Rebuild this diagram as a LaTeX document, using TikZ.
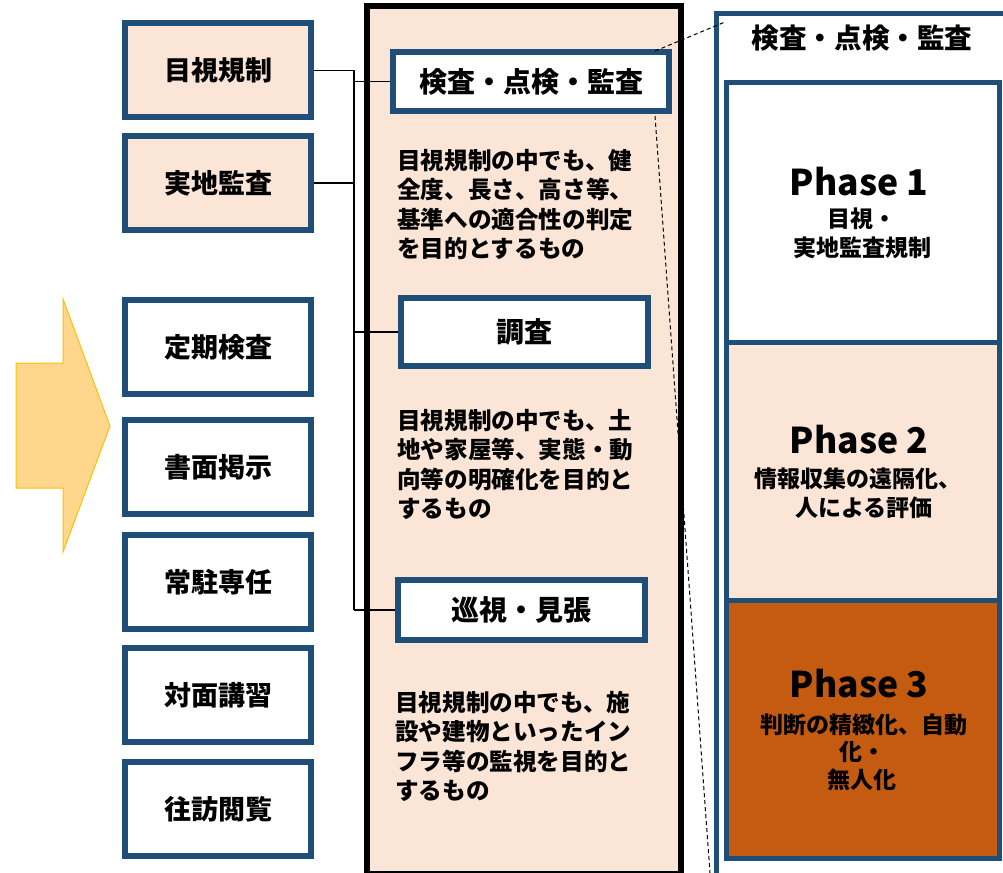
\documentclass[tikz,border=0pt]{standalone}
\usepackage{fontspec}
\setmainfont{Noto Sans CJK JP}
\definecolor{bord}{HTML}{1F4E79}
\definecolor{peach}{HTML}{FBE5D6}
\definecolor{rust}{HTML}{C55A11}
\definecolor{arrowfill}{HTML}{FFD78C}
\definecolor{arrowline}{HTML}{FFC000}
\begin{document}
\begin{tikzpicture}[x=1pt,y=-1pt,
 lbox/.style={draw=bord, line width=6pt, minimum width=186pt, minimum height=94pt, inner sep=0pt, font=\fontsize{27}{32}\selectfont\bfseries},
 ibox/.style={draw=bord, line width=6pt, fill=white, inner sep=0pt, font=\fontsize{28}{32}\selectfont\bfseries},
 ctext/.style={anchor=base west, inner sep=0pt, font=\fontsize{23.6}{28}\selectfont\bfseries},
 ptitle/.style={anchor=base, inner sep=0pt, font=\fontsize{35.5}{42}\selectfont\bfseries},
 psub/.style={anchor=base, inner sep=0pt, font=\fontsize{23}{28}\selectfont\bfseries},
 rtitle/.style={anchor=base, inner sep=0pt, font=\fontsize{27.6}{32}\selectfont\bfseries},
 conn/.style={line width=1.3pt, black},
 dashln/.style={line width=1pt, dash pattern=on 4pt off 3pt}
]
\clip (0,0) rectangle (1003,872);
\fill[white] (0,0) rectangle (1003,872);

% arrow
\draw[arrowline, line width=1pt, fill=arrowfill]
 (16,363) -- (63,363) -- (63,299) -- (110,426) -- (63,552) -- (63,488) -- (16,488) -- cycle;

% left boxes
\node[lbox, fill=peach] (b1) at (218,70.5) {目視規制};
\node[lbox, fill=peach] (b2) at (218,183) {実地監査};
\node[lbox, fill=white] (b3) at (218,347) {定期検査};
\node[lbox, fill=white] (b4) at (218,467) {書面掲示};
\node[lbox, fill=white] (b5) at (218,582) {常駐専任};
\node[lbox, fill=white] (b6) at (218,695) {対面講習};
\node[lbox, fill=white] (b7) at (218,809) {往訪閲覧};

% middle column
\draw[line width=6pt, fill=peach] (367,6) rectangle (681,874);

% connectors
\coordinate (j1) at (354,70.5);
\coordinate (j2) at (354,183);
\coordinate (jk) at (354,81.5);
\coordinate (jc) at (354,332);
\coordinate (js) at (354,610);
\draw[conn] (b1.east) -- (j1) -- (js);
\draw[conn] (b2.east) -- (j2);

% inner boxes
\node[ibox, minimum width=276pt, minimum height=59pt] (k1) at (531,81.5) {検査・点検・監査};
\node[ibox, minimum width=247pt, minimum height=68pt] (k2) at (524.5,332) {調査};
\node[ibox, minimum width=247pt, minimum height=60pt] (k3) at (521.5,610) {巡視・見張};
\draw[conn] (jk) -- (k1.west);
\draw[conn] (jc) -- (k2.west);
\draw[conn] (js) -- (k3.west);

% column texts
\node[ctext] (t1a) at (397,169) {目視規制の中でも、健};
\node[ctext] (t1b) at (397,198.5) {全度、長さ、高さ等、};
\node[ctext] (t1c) at (397,228) {基準への適合性の判定};
\node[ctext] (t1d) at (397,257.5) {を目的とするもの};

\node[ctext] (t2a) at (397,429) {目視規制の中でも、土};
\node[ctext] (t2b) at (397,458.5) {地や家屋等、実態・動};
\node[ctext] (t2c) at (397,488) {向等の明確化を目的と};
\node[ctext] (t2d) at (397,517.5) {するもの};

\node[ctext] (t3a) at (395,711) {目視規制の中でも、施};
\node[ctext] (t3b) at (395,740.5) {設や建物といったイン};
\node[ctext] (t3c) at (395,770) {フラ等の監視を目的と};
\node[ctext] (t3d) at (395,799.5) {するもの};

% right column
\draw[bord, line width=5pt, fill=white] (716,14) rectangle (1020,890);
\node[rtitle] (rt) at (862,49) {検査・点検・監査};
\node[draw=bord, line width=5pt, fill=white, minimum width=273pt, minimum height=259pt, inner sep=0pt] (p1) at (862.5,212.5) {};
\node[draw=bord, line width=5pt, fill=peach, minimum width=273pt, minimum height=258pt, inner sep=0pt] (p2) at (862.5,471) {};
\node[draw=bord, line width=5pt, fill=rust, minimum width=273pt, minimum height=258pt, inner sep=0pt] (p3) at (862.5,729) {};

\node[ptitle] (p1t) at (859,195) {Phase 1};
\node[psub] (p1a) at (862,227) {目視・};
\node[psub] (p1b) at (862,256) {実地監査規制};

\node[ptitle] (p2t) at (859,453) {Phase 2};
\node[psub] (p2a) at (858,487) {情報収集の遠隔化、};
\node[psub] (p2b) at (864,516) {人による評価};

\node[ptitle] (p3t) at (859,697) {Phase 3};
\node[psub] (p3a) at (864,733) {判断の精緻化、自動};
\node[psub] (p3b) at (862,760) {化・};
\node[psub] (p3c) at (862,788) {無人化};

% dashed guide lines
\coordinate (d1s) at (655,51);
\coordinate (d1e) at (725,22);
\coordinate (d2s) at (655,116);
\coordinate (d2e) at (710.5,880);
\draw[dashln] (d1s) -- (d1e);
\draw[dashln] (d2s) -- (d2e);
\end{tikzpicture}
\end{document}
